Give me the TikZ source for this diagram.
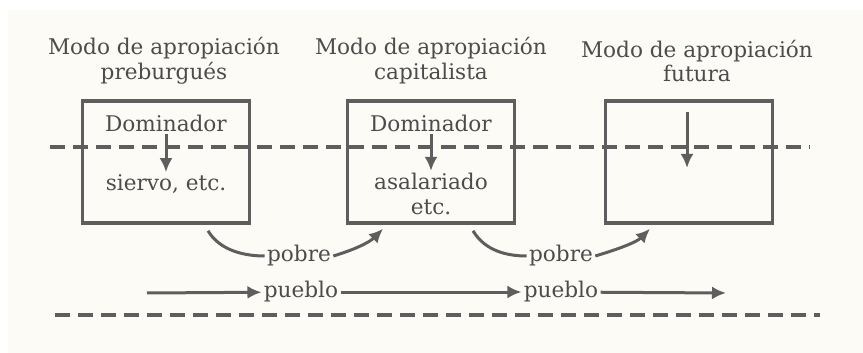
\documentclass[tikz,border=0pt]{standalone}
\usepackage{fontspec}
\setmainfont{DejaVu Serif}
\usepackage{xcolor}
\usepackage{tikz}
\usetikzlibrary{calc}
\usetikzlibrary{arrows.meta}
\usetikzlibrary{positioning}

\definecolor{tinta}{HTML}{5E5E5E}
\definecolor{letra}{HTML}{4C4C4C}
\definecolor{papel}{HTML}{FDFBF5}

\tikzset{
	caja/.style={draw=tinta,line width=1.8pt,minimum width=83.5pt,minimum height=61pt},
	rotulo/.style={text=letra,font=\fontsize{10.8}{12.4}\selectfont,align=center,inner sep=1pt},
	corte/.style={draw=tinta,line width=1.8pt,dash pattern=on 7.5pt off 4pt},
	trazo/.style={draw=tinta,line width=1.5pt},
	flecha/.style={trazo,-{Latex[length=7pt,width=6.5pt]}},
}

\begin{document}
\begin{tikzpicture}[x=0.5pt,y=-0.5pt]
		\useasboundingbox (0,0) rectangle (863,353);
		\fill [white] (0,0) rectangle (863,353);
		\fill [papel] (8,10) rectangle (863,353);
		% modos
		\node [rotulo] (tit1) at (164,61) {Modo de apropiación\\preburgués};
		\node [rotulo] (tit2) at (431,61) {Modo de apropiación\\capitalista};
		\node [rotulo] (tit3) at (697,61) {Modo de apropiación\\futura};
		\node [caja] (box1) at (166,162) {};
		\node [caja] (box2) at (431,162) {};
		\node [caja] (box3) at (689,162) {};
		\draw [corte] (50,147) -- (810,147);
		\draw [corte] (55,315) -- (820,315);
		% dentro de las cajas
		\node [rotulo] (dom1) at (166,123) {Dominador};
		\node [rotulo] (sie1) at (166,184) {siervo, etc.};
		\node [rotulo] (dom2) at (431,123) {Dominador};
		\node [rotulo] (asa2) at (431,194) {asalariado\\etc.};
		\coordinate (top3) at (687,112);
		\coordinate (bot3) at (687,168);
		\draw [flecha] (dom1) -- (sie1);
		\draw [flecha] (dom2) -- (asa2);
		\draw [flecha] (top3) -- (bot3);
		% pobre y pueblo
		\node [rotulo] (pob1) at (299,256) {pobre};
		\node [rotulo] (pob2) at (561,256) {pobre};
		\node [rotulo] (pue1) at (301,292) {pueblo};
		\node [rotulo] (pue2) at (561,292) {pueblo};
		\coordinate (sal1) at ($(box1.south)+(42,6)$);
		\coordinate (sal2) at ($(box2.south)+(42,6)$);
		\coordinate (ent2) at ($(box2.south)+(-48,4)$);
		\coordinate (ent3) at ($(box3.south)+(-39,4)$);
		\coordinate (ini) at (147,293);
		\coordinate (fin) at (726,293);
		\draw [trazo] (sal1) .. controls +(12,20) and +(-20,0) .. (pob1.west);
		\draw [trazo] (sal2) .. controls +(12,20) and +(-20,0) .. (pob2.west);
		\draw [flecha] (pob1.east) .. controls +(20,-6) and +(-14,14) .. (ent2);
		\draw [flecha] (pob2.east) .. controls +(20,-6) and +(-14,14) .. (ent3);
		\draw [flecha] (ini) -- (pue1);
		\draw [flecha] (pue1) -- (pue2);
		\draw [flecha] (pue2) -- (fin);
	\end{tikzpicture}
\end{document}
